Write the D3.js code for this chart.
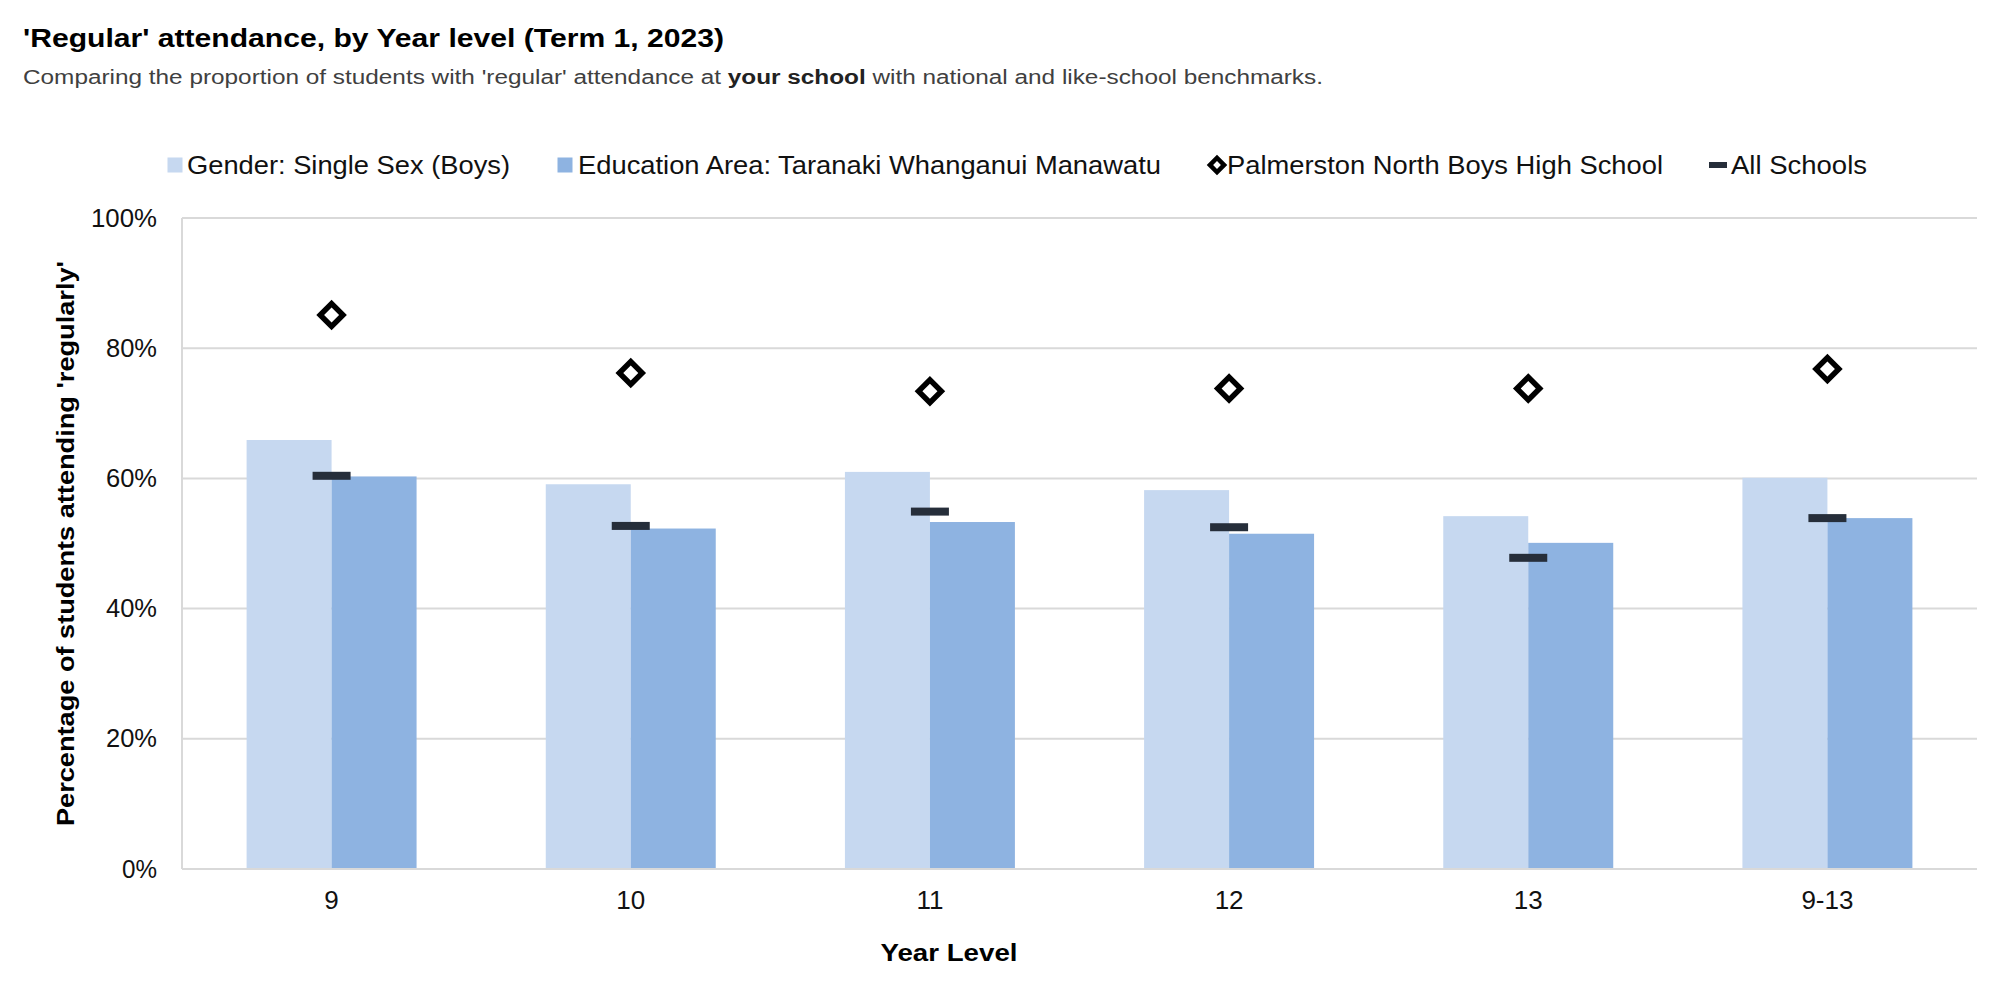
<!DOCTYPE html>
<html>
<head>
<meta charset="utf-8">
<script src="https://cdn.jsdelivr.net/npm/d3@7"></script>
<style>
  html, body { margin: 0; padding: 0; background: #fff; }
  svg { display: block; font-family: "Liberation Sans", Arial, sans-serif; }
</style>
</head>
<body>
<svg id="chart" width="2000" height="998"></svg>
<script>
// ---- data ----
const categories = ["9", "10", "11", "12", "13", "9-13"];
const genderBoys = [65.9, 59.1, 61.0, 58.2, 54.2, 60.1];
const educationArea = [60.3, 52.3, 53.3, 51.5, 50.1, 53.9];
const yourSchool = [85.1, 76.2, 73.4, 73.8, 73.8, 76.8];
const allSchools = [60.4, 52.7, 54.9, 52.5, 47.8, 53.9];
const yTicks = [0, 20, 40, 60, 80, 100];
const seriesNames = [
  "Gender: Single Sex (Boys)",
  "Education Area: Taranaki Whanganui Manawatu",
  "Palmerston North Boys High School",
  "All Schools"
];

// ---- styles ----
const colLight = "#c6d8f0";
const colDark = "#8eb3e1";
const colDash = "#262e3a";
const colGrid = "#d9d9d9";

const svg = d3.select("#chart");
const m = { left: 182, right: 1977, top: 218, bottom: 869 };

const x = d3.scaleBand().domain(categories).range([m.left, m.right]).padding(0);
const x1 = d3.scaleBand().domain([0, 1]).range([0, x.bandwidth()]).paddingInner(0).paddingOuter(0.76);
const y = d3.scaleLinear().domain([0, 100]).range([m.bottom, m.top]);

// title
svg.append("text").attr("x", 23).attr("y", 38).attr("dy", "0.35em")
  .attr("font-size", 26).attr("font-weight", "bold").attr("fill", "#000")
  .attr("textLength", 701).attr("lengthAdjust", "spacingAndGlyphs")
  .text("'Regular' attendance, by Year level (Term 1, 2023)");

const sub = svg.append("text").attr("x", 23).attr("y", 77).attr("dy", "0.35em")
  .attr("font-size", 20).attr("fill", "#404040")
  .attr("textLength", 1300).attr("lengthAdjust", "spacingAndGlyphs");
sub.append("tspan").text("Comparing the proportion of students with 'regular' attendance at ");
sub.append("tspan").attr("font-weight", "bold").attr("fill", "#222").text("your school");
sub.append("tspan").text(" with national and like-school benchmarks.");

// gridlines
svg.append("g").selectAll("line").data(yTicks).join("line")
  .attr("x1", m.left).attr("x2", m.right)
  .attr("y1", d => y(d)).attr("y2", d => y(d))
  .attr("stroke", colGrid).attr("stroke-width", 2);
svg.append("line").attr("x1", m.left).attr("x2", m.left).attr("y1", m.top).attr("y2", m.bottom)
  .attr("stroke", colGrid).attr("stroke-width", 2);

// y axis
const yAxis = svg.append("g").attr("transform", `translate(${m.left},0)`)
  .call(d3.axisLeft(y).tickValues(yTicks).tickFormat(d => d + "%").tickSize(0).tickPadding(25));
yAxis.select(".domain").remove();
yAxis.selectAll("text").attr("font-size", 25).attr("fill", "#111").attr("font-family", "Liberation Sans, Arial, sans-serif")
  .attr("lengthAdjust", "spacingAndGlyphs")
  .each(function(d) { d3.select(this).attr("textLength", d === 100 ? 66 : d === 0 ? 35 : 51); });

// bars
const groups = svg.append("g").selectAll("g").data(categories).join("g")
  .attr("transform", d => `translate(${x(d)},0)`);
groups.append("rect")
  .attr("x", x1(0)).attr("width", x1.bandwidth())
  .attr("y", (d, i) => y(genderBoys[i])).attr("height", (d, i) => y(0) - y(genderBoys[i]))
  .attr("fill", colLight);
groups.append("rect")
  .attr("x", x1(1)).attr("width", x1.bandwidth())
  .attr("y", (d, i) => y(educationArea[i])).attr("height", (d, i) => y(0) - y(educationArea[i]))
  .attr("fill", colDark);

// baseline
svg.append("line").attr("x1", m.left).attr("x2", m.right).attr("y1", y(0)).attr("y2", y(0))
  .attr("stroke", colGrid).attr("stroke-width", 2);

// all schools dash
const dashW = 38, dashH = 8;
groups.append("rect")
  .attr("x", x.bandwidth() / 2 - dashW / 2).attr("width", dashW)
  .attr("y", (d, i) => y(allSchools[i]) - dashH / 2).attr("height", dashH)
  .attr("fill", colDash);

// your school diamonds
const diamond = d3.symbol().type(d3.symbolSquare).size(260);
groups.append("path")
  .attr("d", diamond)
  .attr("transform", (d, i) => `translate(${x.bandwidth() / 2},${y(yourSchool[i])}) rotate(45)`)
  .attr("fill", "#fff").attr("stroke", "#000").attr("stroke-width", 5.5);

// x axis
const xAxis = svg.append("g").attr("transform", `translate(0,${m.bottom})`)
  .call(d3.axisBottom(x).tickSize(0).tickPadding(0));
xAxis.select(".domain").remove();
xAxis.selectAll("text").attr("y", 31).attr("dy", "0.35em").attr("font-size", 26).attr("fill", "#111")
  .attr("font-family", "Liberation Sans, Arial, sans-serif");

// axis titles
svg.append("text").attr("transform", `translate(66,${(m.top + m.bottom) / 2}) rotate(-90)`)
  .attr("text-anchor", "middle").attr("dy", "0.35em")
  .attr("font-size", 24).attr("font-weight", "bold").attr("fill", "#000")
  .attr("textLength", 565).attr("lengthAdjust", "spacingAndGlyphs")
  .text("Percentage of students attending 'regularly'");
svg.append("text").attr("x", 949).attr("y", 953).attr("dy", "0.35em").attr("text-anchor", "middle")
  .attr("font-size", 24).attr("font-weight", "bold").attr("fill", "#000")
  .attr("textLength", 137).attr("lengthAdjust", "spacingAndGlyphs")
  .text("Year Level");

// legend
const legY = 165;
const legend = [
  { name: seriesNames[0], type: "sq", color: colLight, mx: 175, tx: 187, tw: 323 },
  { name: seriesNames[1], type: "sq", color: colDark, mx: 565, tx: 578, tw: 583 },
  { name: seriesNames[2], type: "dia", mx: 1217, tx: 1227, tw: 436 },
  { name: seriesNames[3], type: "dash", mx: 1718, tx: 1731, tw: 136 }
];
const lg = svg.append("g").selectAll("g").data(legend).join("g");
lg.filter(d => d.type === "sq").append("rect")
  .attr("x", d => d.mx - 7.5).attr("y", legY - 7.5).attr("width", 15).attr("height", 15).attr("fill", d => d.color);
lg.filter(d => d.type === "dia").append("path")
  .attr("d", d3.symbol().type(d3.symbolSquare).size(100))
  .attr("transform", d => `translate(${d.mx},${legY}) rotate(45)`)
  .attr("fill", "#fff").attr("stroke", "#000").attr("stroke-width", 4.5);
lg.filter(d => d.type === "dash").append("rect")
  .attr("x", d => d.mx - 9).attr("y", legY - 3).attr("width", 18).attr("height", 6).attr("fill", colDash);
lg.append("text").attr("x", d => d.tx).attr("y", legY).attr("dy", "0.35em")
  .attr("font-size", 26).attr("fill", "#111")
  .attr("textLength", d => d.tw).attr("lengthAdjust", "spacingAndGlyphs")
  .text(d => d.name);
</script>
</body>
</html>
